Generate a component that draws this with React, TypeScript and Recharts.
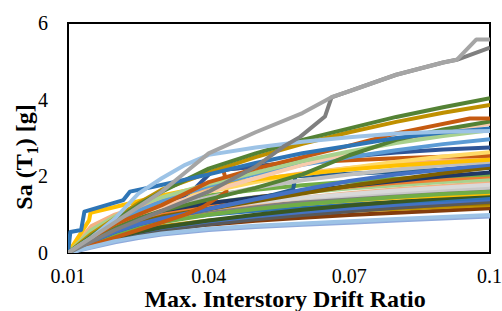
import { LineChart, Line, XAxis, YAxis, ReferenceArea } from 'recharts';

// IDA curves: Sa(T1) vs max interstory drift ratio, one array per record
const driftGrid = [0.01, 0.015, 0.02, 0.025, 0.03, 0.04, 0.05, 0.06, 0.07, 0.08, 0.09, 0.1];

const rec01 = [0, 0.14, 0.28, 0.39, 0.48, 0.6, 0.68, 0.74, 0.79, 0.85, 0.9, 0.95];
const rec02 = [0, 0.16, 0.31, 0.42, 0.51, 0.63, 0.71, 0.77, 0.83, 0.89, 0.94, 0.99];
const rec03 = [0, 0.2, 0.38, 0.5, 0.6, 0.74, 0.84, 0.92, 0.99, 1.05, 1.11, 1.17];
const rec04 = [0, 0.25, 0.45, 0.6, 0.7, 0.85, 0.95, 1.03, 1.1, 1.15, 1.2, 1.25];
const rec05 = [0, 0.22, 0.42, 0.56, 0.67, 0.82, 0.94, 1.04, 1.12, 1.19, 1.25, 1.3];
const rec06 = [0, 0.18, 0.35, 0.48, 0.59, 0.75, 0.88, 0.99, 1.09, 1.18, 1.26, 1.34];
const rec07 = [0, 0.2, 0.4, 0.55, 0.66, 0.83, 0.96, 1.07, 1.17, 1.26, 1.33, 1.4];
const rec08 = [0, 0.3, 0.55, 0.72, 0.85, 1.0, 1.1, 1.19, 1.27, 1.33, 1.39, 1.45];
const rec09 = [0, 0.2, 0.4, 0.55, 0.67, 0.85, 1.0, 1.13, 1.24, 1.34, 1.43, 1.51];
const rec10 = [0, 0.3, 0.55, 0.72, 0.86, 1.05, 1.18, 1.28, 1.36, 1.44, 1.5, 1.56];
const rec11 = [0, 0.35, 0.6, 0.78, 0.92, 1.1, 1.23, 1.34, 1.43, 1.5, 1.56, 1.62];
const rec12 = [0, 0.5, 0.85, 1.05, 1.18, 1.25, 1.33, 1.42, 1.5, 1.58, 1.65, 1.71];
const rec13 = [0, 0.3, 0.58, 0.8, 0.95, 1.15, 1.3, 1.44, 1.56, 1.66, 1.75, 1.83];
const rec14 = [0, 0.45, 0.75, 0.95, 1.08, 1.2, 1.32, 1.44, 1.54, 1.63, 1.71, 1.78];
const rec15 = [0, 0.35, 0.65, 0.88, 1.05, 1.3, 1.46, 1.58, 1.68, 1.77, 1.85, 1.92];
const rec16 = [0, 0.3, 0.6, 0.85, 1.0, 1.25, 1.45, 1.6, 1.73, 1.83, 1.92, 2.0];
const rec17 = [0, 0.5, 0.85, 1.1, 1.28, 1.5, 1.65, 1.77, 1.86, 1.94, 2.0, 2.05];
const rec18 = [0, 0.4, 0.7, 0.95, 1.1, 1.3, 1.45, 1.6, 1.75, 1.88, 2.0, 2.1];
const rec20 = [0, 0.35, 0.6, 0.8, 0.95, 1.15, 1.35, 1.55, 1.75, 1.92, 2.08, 2.23];
const rec21 = [0, 0.4, 0.7, 0.95, 1.15, 1.45, 1.7, 1.9, 2.05, 2.18, 2.29, 2.38];
const rec22 = [0, 0.7, 1.0, 1.2, 1.38, 1.65, 1.9, 2.08, 2.22, 2.32, 2.4, 2.47];
const rec24 = [0, 0.5, 0.85, 1.1, 1.3, 1.6, 1.85, 2.05, 2.22, 2.38, 2.52, 2.63];
const rec27 = [0, 0.45, 0.8, 1.1, 1.35, 1.75, 2.05, 2.3, 2.5, 2.68, 2.84, 2.97];
const rec28 = [0, 0.4, 0.7, 0.95, 1.2, 1.6, 1.95, 2.3, 2.6, 2.9, 3.15, 3.37];
const rec29 = [0, 0.6, 0.95, 1.25, 1.45, 1.8, 2.1, 2.4, 2.65, 2.87, 3.05, 3.2];
const rec30 = [0, 0.35, 0.65, 0.9, 1.1, 1.4, 1.7, 2.05, 2.55, 2.95, 3.22, 3.43];
const rec32 = [0, 0.3, 0.55, 0.75, 0.9, 1.15, 1.4, 1.65, 1.88, 2.05, 2.18, 2.3];
const rec33 = [0, 0.25, 0.5, 0.68, 0.8, 1.0, 1.15, 1.27, 1.37, 1.46, 1.54, 1.6];
const rec34 = [0, 0.5, 0.9, 1.3, 1.65, 2.1, 2.5, 2.85, 3.15, 3.42, 3.66, 3.86];
const rec35 = [0, 0.45, 0.85, 1.25, 1.6, 2.2, 2.6, 2.95, 3.25, 3.55, 3.8, 4.04];

// records with jumps / resurrections need their own drift points
const rec19Drift = [0.01, 0.015, 0.02, 0.025, 0.03, 0.04, 0.05, 0.058, 0.0585, 0.07, 0.08, 0.09, 0.1];
const rec19 = [0, 0.3, 0.55, 0.75, 0.9, 1.15, 1.4, 1.65, 2.0, 2.07, 2.12, 2.17, 2.22];
const rec23Drift = [0.01, 0.015, 0.02, 0.025, 0.03, 0.035, 0.0389, 0.0438, 0.0435, 0.0431, 0.053, 0.06, 0.07, 0.08, 0.09, 0.1];
const rec23 = [0, 0.2, 0.4, 0.6, 0.8, 1.0, 1.21, 1.6, 1.99, 2.17, 2.3, 2.36, 2.42, 2.47, 2.51, 2.54];
const rec25Drift = [0.01, 0.0145, 0.0148, 0.02, 0.025, 0.03, 0.04, 0.05, 0.06, 0.07, 0.08, 0.09, 0.1];
const rec25 = [0, 0.85, 1.05, 1.2, 1.35, 1.5, 1.75, 1.92, 2.06, 2.18, 2.28, 2.36, 2.43];
const rec26Drift = [0.01, 0.015, 0.02, 0.025, 0.03, 0.0367, 0.0403, 0.0431, 0.05, 0.06, 0.07, 0.08, 0.09, 0.1];
const rec26 = [0, 0.35, 0.65, 0.9, 1.15, 1.64, 2.08, 2.17, 2.25, 2.4, 2.52, 2.62, 2.7, 2.75];
const rec31Drift = [0.01, 0.015, 0.02, 0.025, 0.03, 0.04, 0.05, 0.06, 0.07, 0.08, 0.0957, 0.1];
const rec31 = [0, 0.4, 0.75, 1.0, 1.25, 1.85, 2.2, 2.5, 2.8, 3.12, 3.51, 3.51];
const rec36Drift = [0.01, 0.0105, 0.0128, 0.0135, 0.0218, 0.0232, 0.0282, 0.04, 0.05, 0.06, 0.07, 0.08, 0.09, 0.1];
const rec36 = [0, 0.55, 0.6, 1.08, 1.38, 1.6, 1.73, 2.05, 2.35, 2.6, 2.8, 3.0, 3.14, 3.25];
const rec37Drift = [0.01, 0.015, 0.02, 0.025, 0.03, 0.035, 0.04, 0.05, 0.06, 0.07, 0.08, 0.09, 0.1];
const rec37 = [0, 0.4, 0.9, 1.55, 1.95, 2.3, 2.56, 2.75, 2.9, 3.02, 3.12, 3.16, 3.18];
const rec38Drift = [0.01, 0.015, 0.02, 0.025, 0.03, 0.04, 0.05, 0.0559, 0.0595, 0.0648, 0.0662, 0.07, 0.08, 0.09, 0.0929, 0.1];
const rec38 = [0, 0.3, 0.6, 0.85, 1.1, 1.6, 2.25, 2.77, 3.03, 3.56, 4.06, 4.22, 4.65, 4.97, 5.04, 5.36];
const rec39Drift = [0.01, 0.015, 0.02, 0.025, 0.03, 0.035, 0.04, 0.05, 0.06, 0.0665, 0.07, 0.08, 0.09, 0.0929, 0.0971, 0.1];
const rec39 = [0, 0.4, 0.8, 1.2, 1.6, 2.1, 2.6, 3.15, 3.65, 4.08, 4.22, 4.65, 4.97, 5.04, 5.57, 5.57];

const xTicks = [0.01, 0.04, 0.07, 0.1];
const yTicks = [0, 2, 4, 6];

// drawing order (later = on top) with colours
const records = [
  { drift: driftGrid, sa: rec03, color: '#843C0C' },
  { drift: driftGrid, sa: rec04, color: '#BF9000' },
  { drift: driftGrid, sa: rec05, color: '#997300' },
  { drift: driftGrid, sa: rec06, color: '#595959' },
  { drift: driftGrid, sa: rec07, color: '#4472C4' },
  { drift: driftGrid, sa: rec08, color: '#2E75B6' },
  { drift: driftGrid, sa: rec09, color: '#385723' },
  { drift: driftGrid, sa: rec10, color: '#FFC000' },
  { drift: driftGrid, sa: rec11, color: '#7F7F7F' },
  { drift: driftGrid, sa: rec33, color: '#70AD47' },
  { drift: driftGrid, sa: rec12, color: '#C9C9C9' },
  { drift: driftGrid, sa: rec13, color: '#F4B183' },
  { drift: driftGrid, sa: rec14, color: '#D9D9D9' },
  { drift: driftGrid, sa: rec15, color: '#A9D18E' },
  { drift: driftGrid, sa: rec16, color: '#ED7D31' },
  { drift: driftGrid, sa: rec17, color: '#70AD47' },
  { drift: driftGrid, sa: rec18, color: '#203864' },
  { drift: rec19Drift, sa: rec19, color: '#255E91' },
  { drift: driftGrid, sa: rec20, color: '#7F6000' },
  { drift: driftGrid, sa: rec32, color: '#4472C4' },
  { drift: driftGrid, sa: rec21, color: '#BFBFBF' },
  { drift: driftGrid, sa: rec22, color: '#F4B183' },
  { drift: rec23Drift, sa: rec23, color: '#C55A11' },
  { drift: driftGrid, sa: rec24, color: '#FFD966' },
  { drift: rec25Drift, sa: rec25, color: '#FFC000' },
  { drift: rec26Drift, sa: rec26, color: '#2F5597' },
  { drift: driftGrid, sa: rec27, color: '#5B9BD5' },
  { drift: driftGrid, sa: rec28, color: '#F8CBAD' },
  { drift: driftGrid, sa: rec29, color: '#A9D18E' },
  { drift: driftGrid, sa: rec01, color: '#8FAADC' },
  { drift: driftGrid, sa: rec02, color: '#9DC3E6' },
  { drift: driftGrid, sa: rec30, color: '#548235' },
  { drift: rec31Drift, sa: rec31, color: '#C55A11' },
  { drift: driftGrid, sa: rec34, color: '#BF9000' },
  { drift: driftGrid, sa: rec35, color: '#548235' },
  { drift: rec36Drift, sa: rec36, color: '#2E75B6' },
  { drift: rec37Drift, sa: rec37, color: '#9DC3E6' },
  { drift: rec38Drift, sa: rec38, color: '#7F7F7F' },
  { drift: rec39Drift, sa: rec39, color: '#A5A5A5' },
];

const serif = "'Liberation Serif', 'DejaVu Serif', 'Times New Roman', serif";

export default function App() {
  return (
    <div style={{ position: 'absolute', left: 0, top: 0, fontFamily: serif }}>
      <LineChart width={502} height={311} margin={{ top: 23, right: 12, bottom: 0, left: 0 }} style={{ fontFamily: serif }}>
        <XAxis
          type="number"
          dataKey="x"
          domain={[0.01, 0.1]}
          ticks={xTicks}
          allowDataOverflow
          axisLine={false}
          tickLine={false}
          tickSize={0}
          tickMargin={16}
          height={58}
          tickFormatter={(v) => String(+Number(v).toFixed(2))}
          tick={{ fontSize: 20, fill: '#000', style: { fontFamily: serif } }}
          label={{
            value: 'Max. Interstory Drift Ratio',
            position: 'insideBottom',
            offset: 4,
            dx: 6,
            style: { fontSize: 24, fontWeight: 'bold', fill: '#000', fontFamily: serif },
          }}
        />
        <YAxis
          type="number"
          domain={[0, 6]}
          ticks={yTicks}
          allowDataOverflow
          axisLine={false}
          tickLine={false}
          tickSize={0}
          tickMargin={20}
          width={68}
          tick={{ fontSize: 20, fill: '#000', style: { fontFamily: serif } }}
          label={{
            content: () => (
              <text
                transform="rotate(-90)"
                x={-157}
                y={32}
                textAnchor="middle"
                fontSize={24}
                fontWeight="bold"
                style={{ fontFamily: serif }}
                fill="#000"
              >
                Sa (T
                <tspan dy={6} fontSize={16}>1</tspan>
                <tspan dy={-6}>) [g]</tspan>
              </text>
            ),
          }}
        />
        {records.map((r, i) => (
          <Line
            key={i}
            data={r.drift.map((d, j) => ({ x: d, y: r.sa[j] }))}
            dataKey="y"
            stroke={r.color}
            strokeWidth={4}
            strokeLinejoin="round"
            dot={false}
            activeDot={false}
            isAnimationActive={false}
          />
        ))}
        <ReferenceArea x1={0.01} x2={0.1} y1={0} y2={6} fill="none" stroke="#000" strokeWidth={2} />
      </LineChart>
    </div>
  );
}
